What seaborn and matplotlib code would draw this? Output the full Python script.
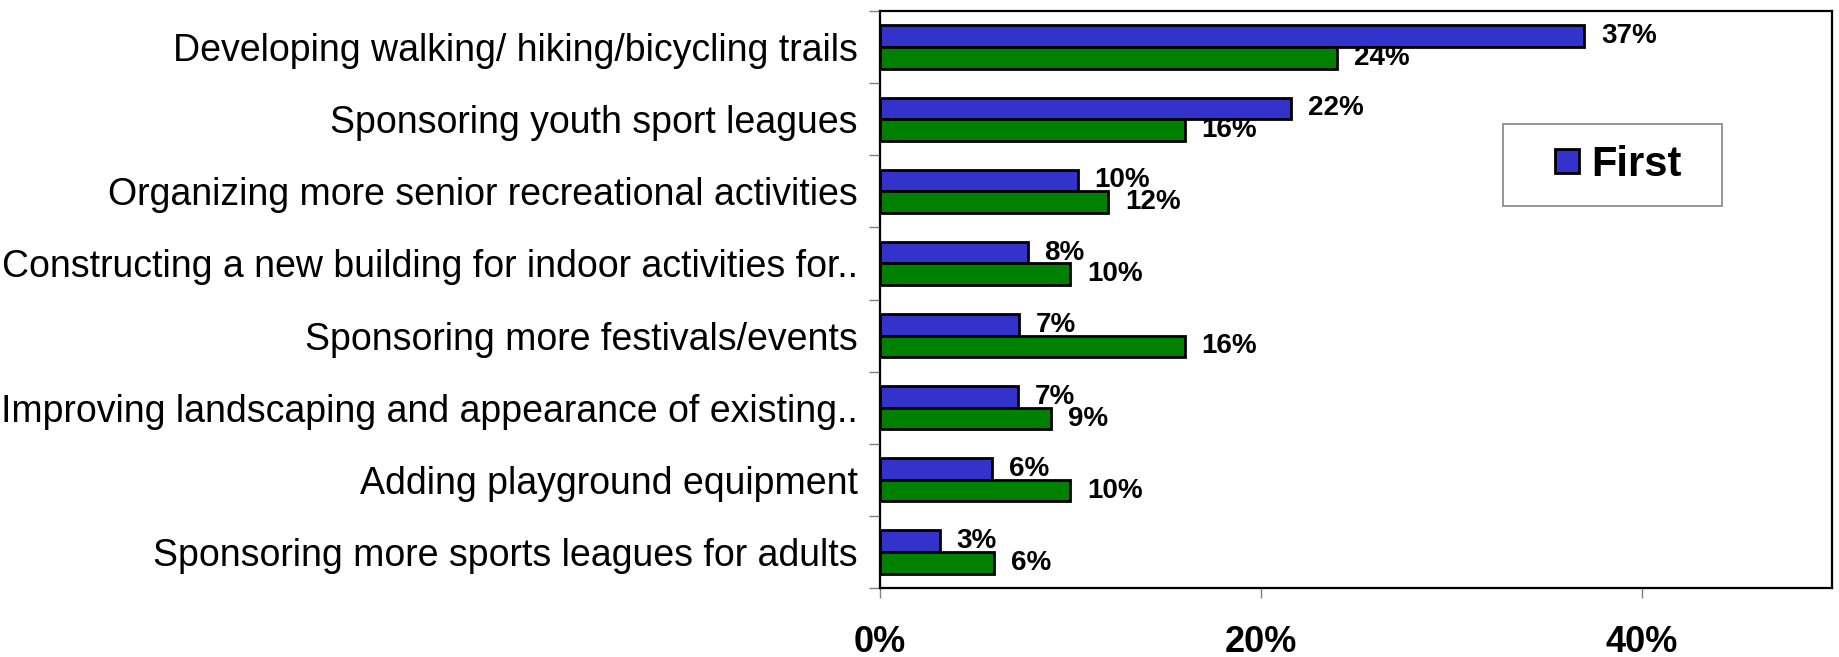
import matplotlib
matplotlib.use("Agg")
import matplotlib.pyplot as plt
import seaborn as sns
import pandas as pd
from matplotlib.lines import Line2D
from matplotlib.ticker import FixedLocator

categories = [
    "Developing walking/ hiking/bicycling trails",
    "Sponsoring youth sport leagues",
    "Organizing more senior recreational activities",
    "Constructing a new building for indoor activities for..",
    "Sponsoring more festivals/events",
    "Improving landscaping and appearance of existing..",
    "Adding playground equipment",
    "Sponsoring more sports leagues for adults",
]
series_names = ["First", "Second"]
first_values = [37.0, 21.6, 10.4, 7.75, 7.3, 7.25, 5.9, 3.15]
second_values = [24.0, 16.0, 12.0, 10.0, 16.0, 9.0, 10.0, 6.0]
x_ticks = [0, 20, 40]
colors = ["#3333CC", "#008000"]

df = pd.DataFrame({
    "category": categories * 2,
    "series": [series_names[0]] * len(categories) + [series_names[1]] * len(categories),
    "value": first_values + second_values,
})

sns.set_theme(style="white")
plt.rcParams["font.family"] = ["Liberation Sans", "DejaVu Sans"]
plt.rcParams["text.color"] = "black"

fig = plt.figure(figsize=(18.39, 6.57), dpi=100)
ax = fig.add_axes([880 / 1839, 1 - 588 / 657, 952 / 1839, 577 / 657])

sns.barplot(data=df, y="category", x="value", hue="series", order=categories,
            hue_order=series_names, palette=colors, orient="h", width=0.6,
            edgecolor="black", linewidth=2, saturation=1, ax=ax, legend=False)

for cont, vals in zip(ax.containers, [first_values, second_values]):
    ax.bar_label(cont, labels=[f"{v:.0f}%" for v in vals], padding=12,
                 fontsize=20, fontweight="bold", color="black")

ax.set_xlim(0, 50)
ax.set_ylim(len(categories) - 0.5, -0.5)
ax.set_xlabel("")
ax.set_ylabel("")

ax.set_yticks(range(len(categories)))
ax.set_yticklabels(categories, fontsize=27)
ax.yaxis.set_minor_locator(FixedLocator([i - 0.5 for i in range(len(categories) + 1)]))
ax.tick_params(axis="y", which="major", length=0, pad=16, left=True, labelcolor="black")
ax.tick_params(axis="y", which="minor", length=8, width=1, color="#808080",
               direction="out", left=True)

ax.set_xticks(x_ticks)
ax.set_xticklabels([f"{t}%" for t in x_ticks], fontsize=26, fontweight="bold")
ax.tick_params(axis="x", which="major", length=7, width=1, color="#808080",
               direction="out", bottom=True, pad=20, labelcolor="black")

for s in ax.spines.values():
    s.set_visible(True)
    s.set_color("black")
    s.set_linewidth(1.6)

handle = Line2D([], [], linestyle="none", marker="s", markersize=17,
                markerfacecolor=colors[0], markeredgecolor="black",
                markeredgewidth=2, label=series_names[0])
leg = ax.legend(handles=[handle], loc="center", mode="expand",
                bbox_to_anchor=(0.6544, 0.660, 0.2301, 0.146), borderaxespad=0,
                prop={"weight": "bold", "size": 30}, frameon=True, fancybox=False,
                edgecolor="#666666", handlelength=2.07, handleheight=0.7,
                handletextpad=-0.45, borderpad=0.5, numpoints=1)
leg.get_frame().set_linewidth(1.2)

fig.savefig("out.png", dpi=100)
